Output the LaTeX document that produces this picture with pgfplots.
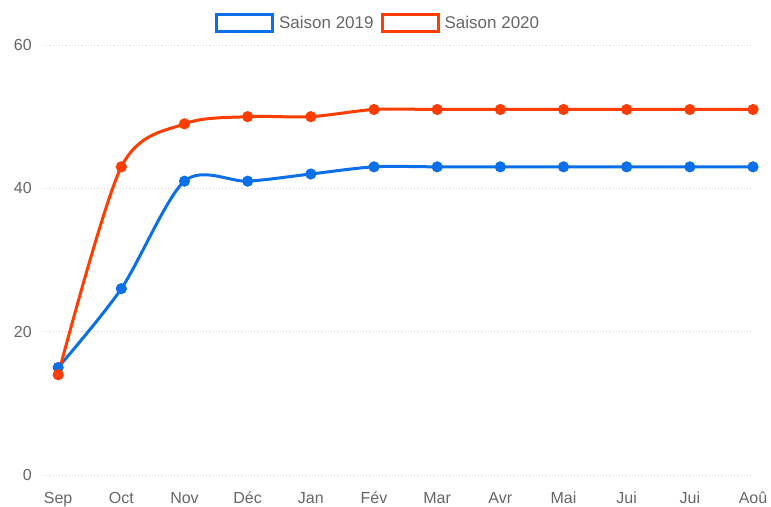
\documentclass[border=0pt]{standalone}
\usepackage{pgfplots}
\pgfplotsset{compat=1.18}
\usepackage{fontspec}
\setmainfont{Liberation Sans}
\definecolor{cblue}{HTML}{0A6FE8}
\definecolor{cred}{HTML}{FF3D00}
\definecolor{tgray}{HTML}{666666}
\definecolor{ggray}{HTML}{DDDDDD}
\begin{document}
\begin{tikzpicture}
\begin{axis}[
  at={(43pt,31pt)}, anchor=south west,
  scale only axis, width=710pt, height=430pt,
  xmin=-0.24, xmax=11, ymin=0, ymax=60,
  xtick={0,...,11},
  xticklabels={Sep,Oct,Nov,Déc,Jan,Fév,Mar,Avr,Mai,Jui,Jui,Aoû},
  ytick={0,20,40,60},
  ymajorgrids, grid style={ggray, line width=0.8pt, dash pattern=on 1.2pt off 2pt},
  axis line style={draw=none}, tick style={draw=none},
  clip=false,
  /pgf/number format/assume math mode=true,
  ticklabel style={font=\fontsize{16}{19}\selectfont, text=tgray},
  xticklabel style={anchor=base, yshift=-28pt},
  yticklabel style={anchor=east, xshift=-7.7pt},
  legend columns=2,
  legend style={draw=none, fill=none, at={(axis description cs:0.472,1.0512)}, anchor=center,
    font=\fontsize{17}{20}\selectfont, text=tgray,
    /tikz/every odd column/.append style={column sep=3pt},
    /tikz/every even column/.append style={column sep=5pt}},
  legend image code/.code={\draw[line width=3pt, fill=white] (0pt,-8.5pt) rectangle (56pt,8.5pt);},
]
\addplot[cblue, line width=3pt, smooth, tension=0.5, mark=*, mark size=4pt, mark options={solid, fill=cblue, draw=cblue}]
  coordinates {(0,15) (1,26) (2,41) (3,41) (4,42) (5,43) (6,43) (7,43) (8,43) (9,43) (10,43) (11,43)};
\addlegendentry{Saison 2019}
\addplot[cred, line width=3pt, smooth, tension=0.5, mark=*, mark size=4pt, mark options={solid, fill=cred, draw=cred}]
  coordinates {(0,14) (1,43) (2,49) (3,50) (4,50) (5,51) (6,51) (7,51) (8,51) (9,51) (10,51) (11,51)};
\addlegendentry{Saison 2020}
\end{axis}
\pgfresetboundingbox
\path (0pt,0pt) rectangle (771pt,506pt);
\end{tikzpicture}
\end{document}
